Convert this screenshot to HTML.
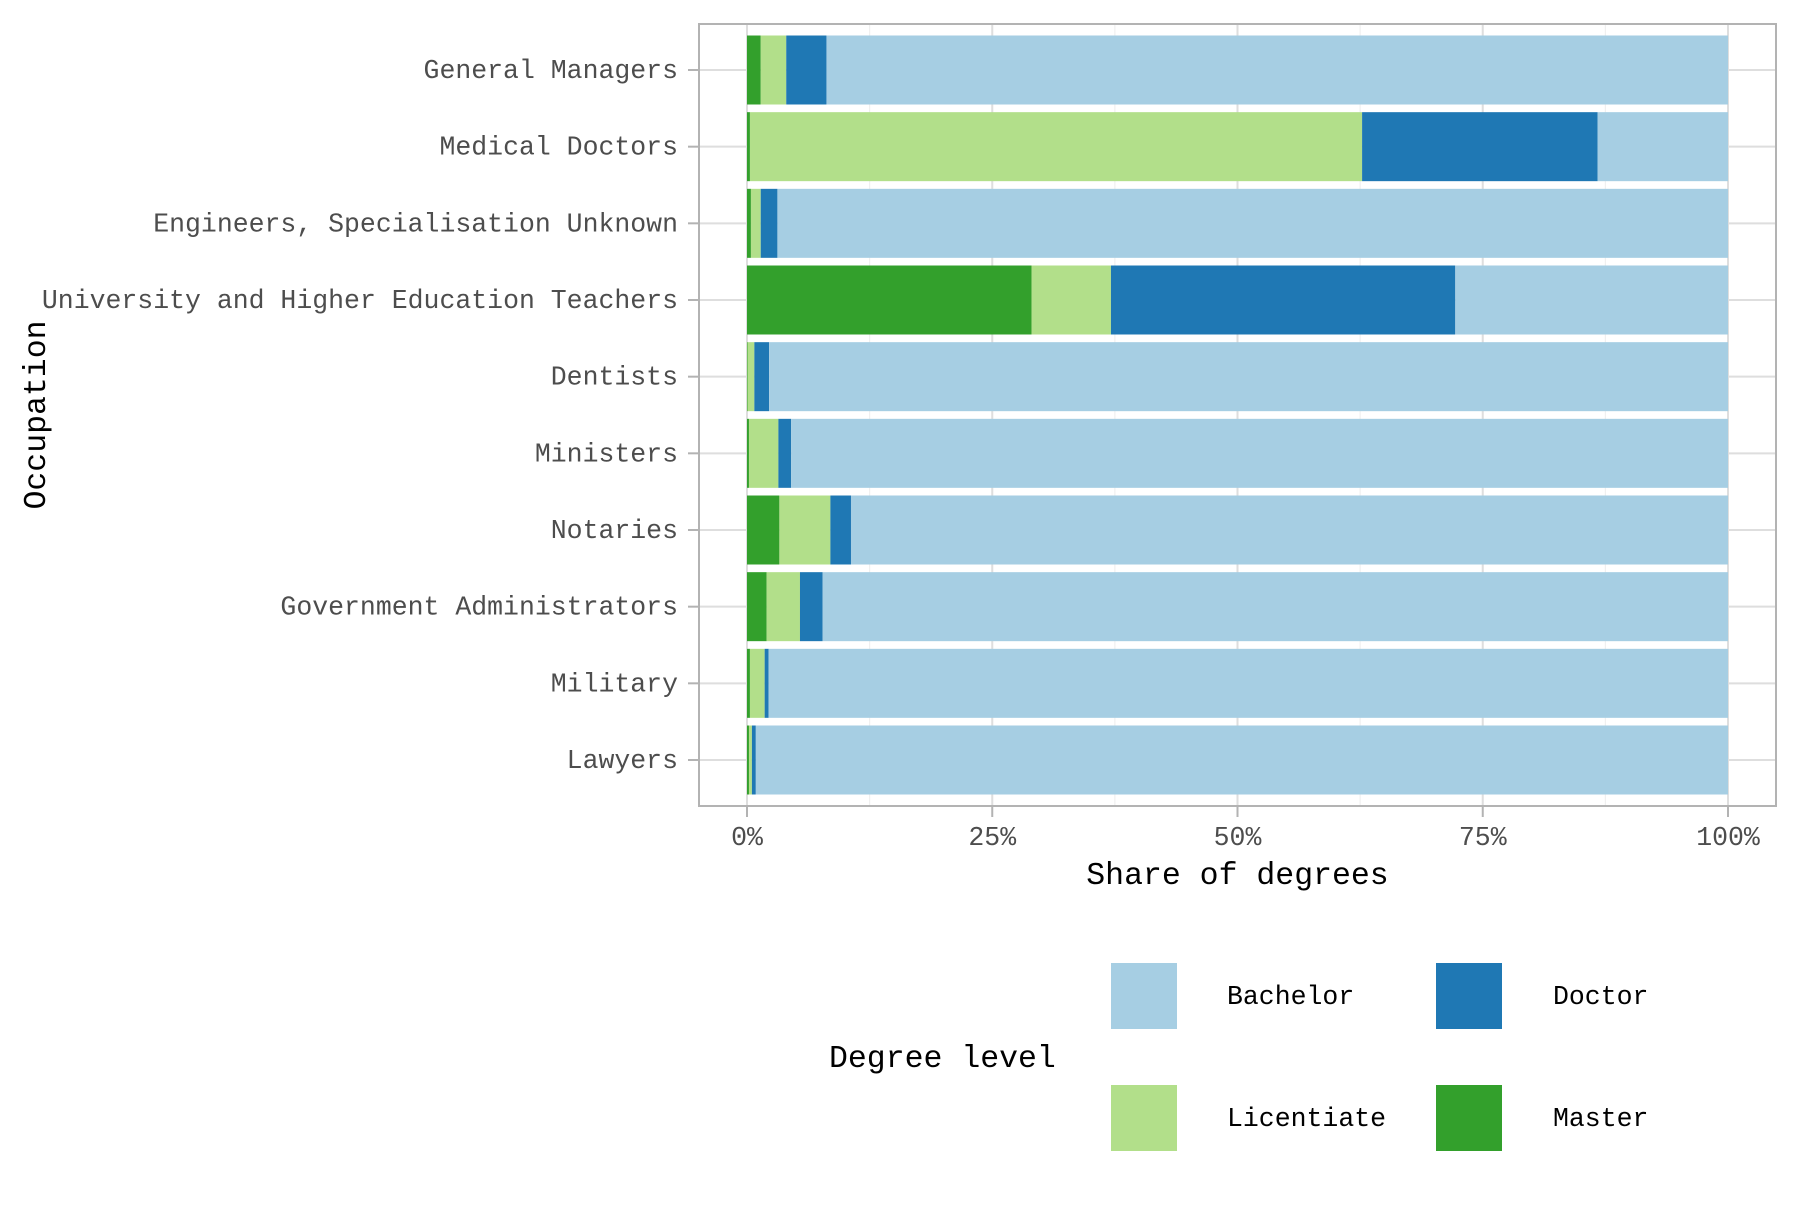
<!DOCTYPE html>
<html><head><meta charset="utf-8"><style>
html,body{margin:0;padding:0;background:#fff;}
svg text{font-family:"Liberation Mono",monospace;}
</style></head><body>
<svg id="chart" width="1800" height="1200" viewBox="0 0 1800 1200" xmlns="http://www.w3.org/2000/svg"></svg>
<script>
const categories=["General Managers","Medical Doctors","Engineers, Specialisation Unknown","University and Higher Education Teachers","Dentists","Ministers","Notaries","Government Administrators","Military","Lawyers"];
const master=[1.4,0.3,0.4,29.0,0.05,0.2,3.3,2.0,0.3,0.2];
const licentiate=[2.6,62.4,1.0,8.1,0.7,3.0,5.2,3.4,1.5,0.3];
const doctor=[4.1,24.0,1.7,35.1,1.5,1.3,2.1,2.3,0.4,0.4];
const xTicks=[0,25,50,75,100];
const xTickLabels=["0%","25%","50%","75%","100%"];
const NS="http://www.w3.org/2000/svg";
const svg=document.getElementById('chart');
const P={l:699,r:1776,t:24,b:806};
const x0=747,x1=1728;
function xs(v){return x0+(x1-x0)*v/100;}
const unit=(P.b-P.t)/(categories.length+0.2);
function yc(i){return P.t+unit*(0.6+i);}
function mk(tag,attrs,parent){const e=document.createElementNS(NS,tag);for(const k in attrs)e.setAttribute(k,attrs[k]);(parent||svg).appendChild(e);return e;}
const colors={Bachelor:"#a6cee3",Doctor:"#1f78b4",Licentiate:"#b2df8a",Master:"#33a02c"};
const grid=mk('g',{});


for(let i=0;i<xTicks.length-1;i++){const m=(xTicks[i]+xTicks[i+1])/2;mk('line',{x1:xs(m),x2:xs(m),y1:P.t,y2:P.b,stroke:'#f0f0f0','stroke-width':1.2},grid);}
xTicks.forEach(v=>mk('line',{x1:xs(v),x2:xs(v),y1:P.t,y2:P.b,stroke:'#dedede','stroke-width':2},grid));
categories.forEach((c,i)=>mk('line',{x1:P.l,x2:P.r,y1:yc(i),y2:yc(i),stroke:'#dedede','stroke-width':2},grid));
const bh=unit*0.9;
categories.forEach((c,i)=>{
  const g=mk('g',{});
  
  
  const bach=100-master[i]-licentiate[i]-doctor[i];
  const segs=[["Master",master[i]],["Licentiate",licentiate[i]],["Doctor",doctor[i]],["Bachelor",bach]];
  let acc=0;
  segs.forEach(([n,v])=>{
    const r=mk('rect',{x:xs(acc),y:yc(i)-bh/2,width:Math.max(0,xs(acc+v)-xs(acc)),height:bh,fill:colors[n]},g);
    
    
    acc+=v;
  });
  const t=mk('text',{x:678,y:yc(i)+8,'text-anchor':'end','font-size':26.5,fill:'#4d4d4d'});
  
  
  t.textContent=c;
  mk('line',{x1:688,x2:P.l,y1:yc(i),y2:yc(i),stroke:'#b3b3b3','stroke-width':2});
});
mk('rect',{x:P.l,y:P.t,width:P.r-P.l,height:P.b-P.t,fill:'none',stroke:'#b3b3b3','stroke-width':2});
xTicks.forEach((v,i)=>{
  mk('line',{x1:xs(v),x2:xs(v),y1:P.b,y2:P.b+11,stroke:'#b3b3b3','stroke-width':2});
  const t=mk('text',{x:xs(v),y:845,'text-anchor':'middle','font-size':26.5,fill:'#4d4d4d'});
  
  
  t.textContent=xTickLabels[i];
});
const xt=mk('text',{x:(P.l+P.r)/2,y:884,'text-anchor':'middle','font-size':31.5,fill:'#000'});


xt.textContent="Share of degrees";
const yt=mk('text',{x:0,y:0,'text-anchor':'middle','font-size':31.5,fill:'#000',transform:'translate(45,415) rotate(-90)'});


yt.textContent="Occupation";
const lg=mk('g',{});


const lt=mk('text',{x:829,y:1067,'font-size':31.5,fill:'#000'},lg);


lt.textContent="Degree level";
[["Bachelor",1111,963,1227],["Doctor",1436,963,1553],["Licentiate",1111,1085,1227],["Master",1436,1085,1553]].forEach(([n,kx,ky,tx])=>{
  const e=mk('g',{},lg);
  
  
  mk('rect',{x:kx,y:ky,width:66,height:66,fill:colors[n]},e);
  const t=mk('text',{x:tx,y:ky+41,'font-size':26.5,fill:'#000'},e);
  t.textContent=n;
});
</script>
</body></html>
